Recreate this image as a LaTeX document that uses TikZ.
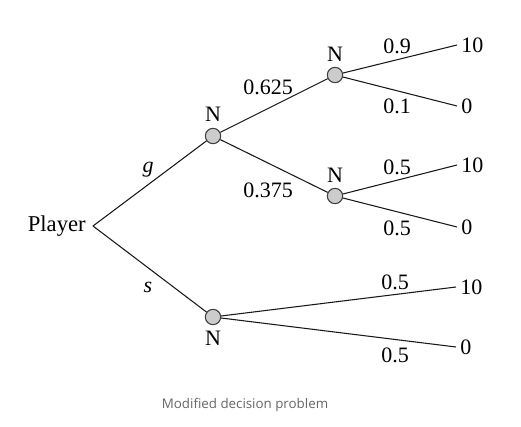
\documentclass[tikz,border=0pt]{standalone}
\usepackage{fontspec}
\setmainfont{Liberation Serif}
\newfontfamily\capfont{Open Sans}
\usepackage{tikz}

\begin{document}
\begin{tikzpicture}[x=0.75pt,y=-0.75pt,line join=round,
  chance/.style={circle,draw=black!75,fill=black!20,line width=0.8pt,inner sep=0pt,minimum size=11.5pt},
  branch/.style={draw=black!90,line width=0.8pt},
  tag/.style={font=\fontsize{16.5}{18}\selectfont,inner sep=0pt},
  prob/.style={font=\fontsize{16.5}{18}\selectfont,inner sep=0pt},
  pay/.style={font=\fontsize{16.5}{18}\selectfont,inner sep=0pt,anchor=west}]
  \useasboundingbox (0,0) rectangle (521,427);
  % decision and chance nodes
  \node[font=\fontsize{17}{19}\selectfont,inner sep=0pt,anchor=east] (Pl) at (86,226) {Player};
  \coordinate (R) at (93,226);
  \node[chance] (NA) at (213,136) {};
  \node[chance] (NB) at (213,317) {};
  \node[chance] (NC) at (335,75) {};
  \node[chance] (ND) at (335,196) {};
  \node[tag] (tA) at (213,114) {N};
  \node[tag] (tB) at (213,338) {N};
  \node[tag] (tC) at (335,54) {N};
  \node[tag] (tD) at (335,175) {N};
  % leaf ends
  \coordinate (L1) at (457,45);
  \coordinate (L2) at (457,106);
  \coordinate (L3) at (457,165);
  \coordinate (L4) at (457,227);
  \coordinate (L5) at (456,287);
  \coordinate (L6) at (456,347);
  \draw[branch] (NA) -- (R) -- (NB);
  \draw[branch] (NA) -- (NC);
  \draw[branch] (NA) -- (ND);
  \draw[branch] (NC) -- (L1);
  \draw[branch] (NC) -- (L2);
  \draw[branch] (ND) -- (L3);
  \draw[branch] (ND) -- (L4);
  \draw[branch] (NB) -- (L5);
  \draw[branch] (NB) -- (L6);
  % payoffs
  \node[pay] (v1) at (461,45) {10};
  \node[pay] (v2) at (461,106) {0};
  \node[pay] (v3) at (461,165) {10};
  \node[pay] (v4) at (461,227) {0};
  \node[pay] (v5) at (460,287) {10};
  \node[pay] (v6) at (460,347) {0};
  % branch labels
  \node[prob] (pg) at (148,170) {\textit{g}};
  \node[prob] (ps) at (148,287) {\textit{s}};
  \node[prob] (p1) at (268,87) {0.625};
  \node[prob] (p2) at (268,190) {0.375};
  \node[prob] (p3) at (397,46) {0.9};
  \node[prob] (p4) at (397,106) {0.1};
  \node[prob] (p5) at (397,167) {0.5};
  \node[prob] (p6) at (397,228) {0.5};
  \node[prob] (p7) at (395,282) {0.5};
  \node[prob] (p8) at (395,355) {0.5};
  \node[font=\capfont\fontsize{10}{12}\selectfont,text=black!60] (cap) at (245,405) {Modified decision problem};
\end{tikzpicture}
\end{document}
